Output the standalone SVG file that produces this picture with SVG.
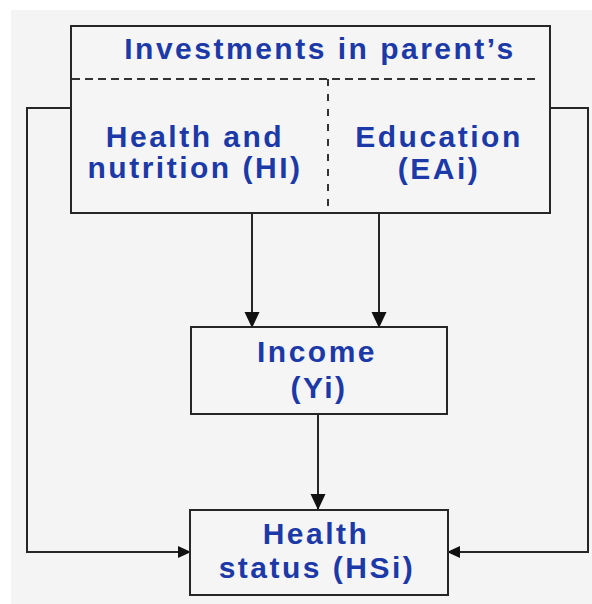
<svg xmlns="http://www.w3.org/2000/svg" width="592" height="604" viewBox="0 0 592 604">
  <style>
    .box { fill: #f5f5f5; stroke: #262626; stroke-width: 2; }
    .line { fill: none; stroke: #262626; stroke-width: 2; }
    .dash { fill: none; stroke: #333333; stroke-width: 2; }
    .t { font-family: "Liberation Sans", Arial, sans-serif; font-weight: bold; font-size: 30px; fill: #1c39a8; text-anchor: middle; letter-spacing: 2.5px; }
  </style>
  <defs>
    <marker id="arrV" markerWidth="16" markerHeight="18" refX="15" refY="7.5" orient="auto" markerUnits="userSpaceOnUse">
      <path d="M0,0 L16,7.5 L0,15 Z" fill="#111111"/>
    </marker>
    <marker id="arrS" markerWidth="13" markerHeight="12" refX="12" refY="6" orient="auto" markerUnits="userSpaceOnUse">
      <path d="M0,0 L13,6 L0,12 Z" fill="#111111"/>
    </marker>
  </defs>
  <rect x="11" y="10" width="581" height="594" fill="#f4f4f4"/>

  <g id="connectors">
    <path class="line" d="M252,213 L252,327" marker-end="url(#arrV)"/>
    <path class="line" d="M379,213 L379,327" marker-end="url(#arrV)"/>
    <path class="line" d="M318,414 L318,509" marker-end="url(#arrV)"/>
    <path class="line" d="M71,108 L27,108 L27,552 L190,552" marker-end="url(#arrS)"/>
    <path class="line" d="M550,108 L588,108 L588,552 L448,552" marker-end="url(#arrS)"/>
  </g>

  <g id="investments">
    <rect class="box" x="71" y="26" width="479" height="187"/>
    <line class="dash" x1="72" y1="79" x2="537" y2="79" stroke-dasharray="8,5"/>
    <line class="dash" x1="328" y1="79" x2="328" y2="210" stroke-dasharray="7,8"/>
    <text class="t" x="320" y="59">Investments in parent’s</text>
    <text class="t" x="195" y="147">Health and</text>
    <text class="t" x="195" y="178">nutrition (HI)</text>
    <text class="t" x="439" y="147">Education</text>
    <text class="t" x="439" y="179">(EAi)</text>
  </g>

  <g id="income">
    <rect class="box" x="191" y="327" width="256" height="87"/>
    <text class="t" x="317" y="362">Income</text>
    <text class="t" x="319" y="398">(Yi)</text>
  </g>

  <g id="health-status">
    <rect class="box" x="190" y="510" width="258" height="85"/>
    <text class="t" x="316" y="544">Health</text>
    <text class="t" x="317" y="578">status (HSi)</text>
  </g>
</svg>
